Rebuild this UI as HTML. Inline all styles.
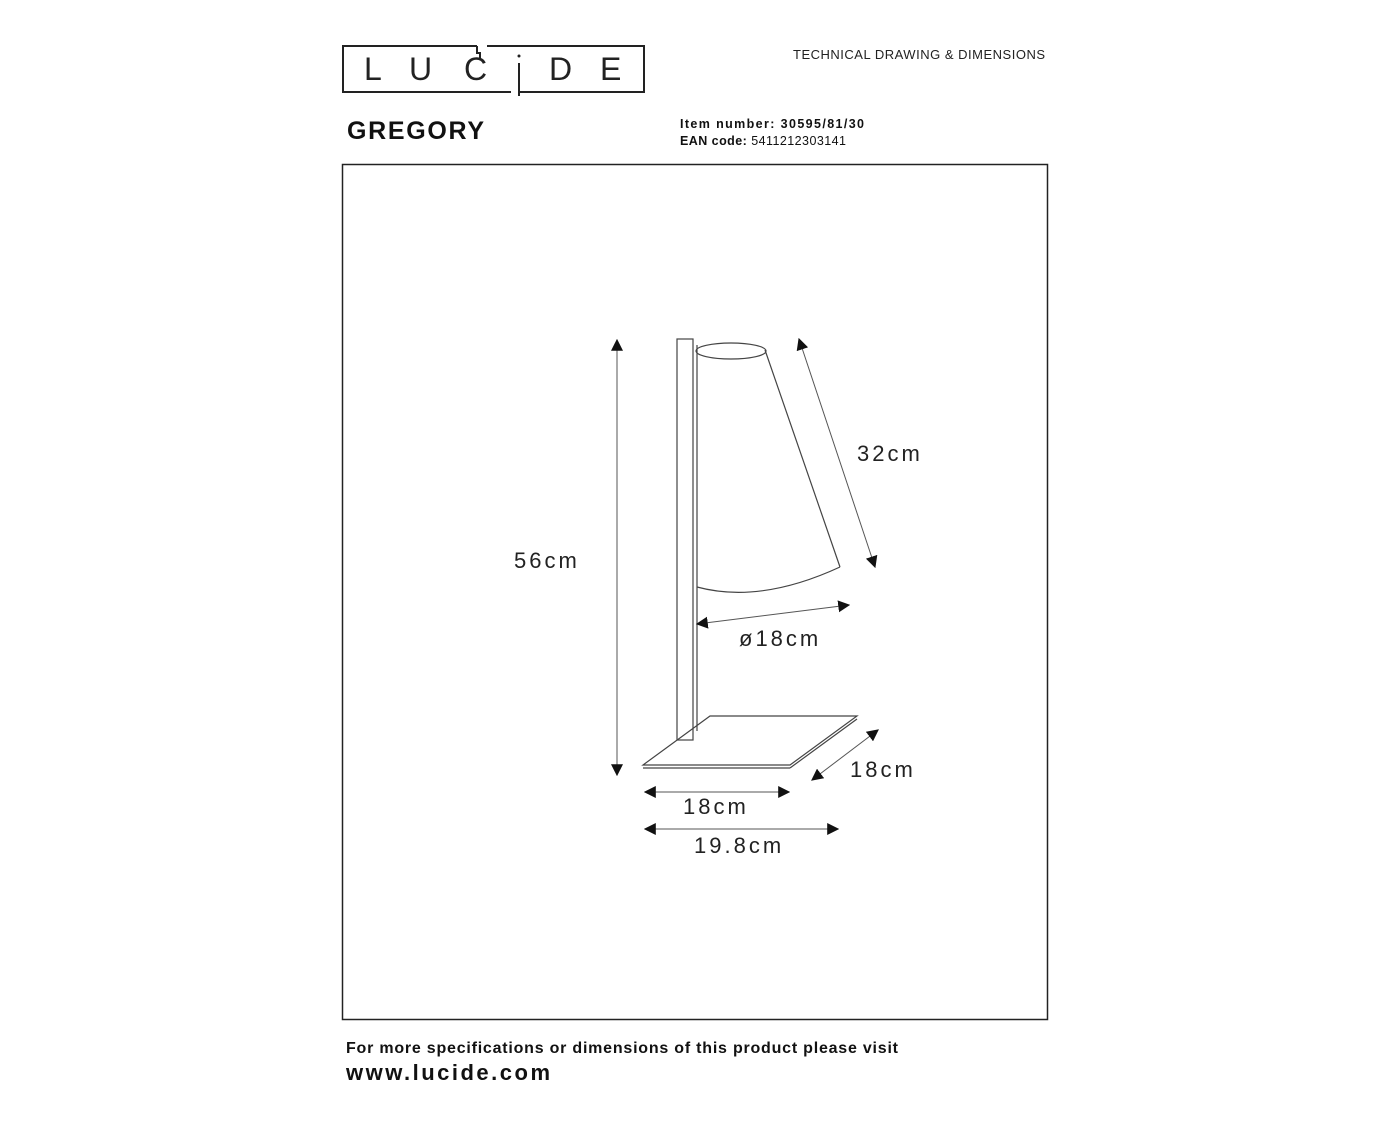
<!DOCTYPE html>
<html><head><style>
html,body{margin:0;padding:0;background:#fff;}
body{width:1384px;height:1132px;position:relative;overflow:hidden;font-family:"Liberation Sans",sans-serif;}
</style></head><body>
<svg width="1384" height="1132" viewBox="0 0 1384 1132" xmlns="http://www.w3.org/2000/svg" style="position:absolute;left:0;top:0">
<defs>
<marker id="a" viewBox="0 0 10 10" refX="9" refY="5" markerWidth="12" markerHeight="12" markerUnits="userSpaceOnUse" orient="auto-start-reverse">
<path d="M0,0 L10,5 L0,10 Z" fill="#111"/></marker>
</defs>
<!-- logo -->
<g fill="none" stroke="#222" stroke-width="2">
<path d="M477,46 H343 V92 H511"/>
<path d="M477,46 V53 H480 V58"/>
<path d="M487,46 H644 V92 H519"/>
<path d="M519,63 V96"/>
</g>
<circle cx="519" cy="56" r="1.5" fill="#222"/>
<g font-family="Liberation Sans" font-size="32" fill="#222">
<text x="364" y="80">L</text><text x="409" y="80">U</text><text x="464" y="80">C</text><text x="549" y="80">D</text><text x="600" y="80">E</text>
</g>
<text x="793" y="59" font-size="13" fill="#222" textLength="252">TECHNICAL DRAWING &amp; DIMENSIONS</text>
<text x="347" y="139" font-size="25" font-weight="bold" fill="#111" textLength="137">GREGORY</text>
<text x="680" y="128" font-size="12.5" font-weight="bold" fill="#111" textLength="184">Item number: 30595/81/30</text>
<text x="680" y="145" font-size="12.5" font-weight="bold" fill="#111" textLength="166">EAN code: <tspan font-weight="normal">5411212303141</tspan></text>
<rect x="342.5" y="164.5" width="705" height="855" fill="none" stroke="#222" stroke-width="1.5"/>
<!-- lamp -->
<g fill="none" stroke="#444" stroke-width="1.2">
<rect x="677" y="339" width="16" height="401"/>
<line x1="697" y1="345" x2="697" y2="731"/>
<ellipse cx="731" cy="351" rx="35" ry="8"/>
<path d="M765,350 L840,567"/>
<path d="M697,587 Q760,604 840,567"/>
<path d="M710,716 H857 L790,765 H643 Z"/>
<line x1="643" y1="768" x2="790" y2="768"/>
<line x1="790" y1="768" x2="857" y2="719"/>
</g>
<g stroke="#555" stroke-width="1" marker-start="url(#a)" marker-end="url(#a)">
<line x1="617" y1="340" x2="617" y2="775"/>
<line x1="799" y1="339" x2="875" y2="567"/>
<line x1="697" y1="624" x2="849" y2="605"/>
<line x1="812" y1="780" x2="878" y2="730"/>
<line x1="645" y1="792" x2="789" y2="792"/>
<line x1="645" y1="829" x2="838" y2="829"/>
</g>
<g font-size="22" fill="#222" letter-spacing="3">
<text x="857" y="461">32cm</text>
<text x="514" y="568">56cm</text>
<text x="739" y="646">ø18cm</text>
<text x="850" y="777">18cm</text>
<text x="683" y="814">18cm</text>
<text x="694" y="853">19.8cm</text>
</g>
<text x="346" y="1053" font-size="16" font-weight="bold" fill="#111" textLength="552">For more specifications or dimensions of this product please visit</text>
<text x="346" y="1080" font-size="22" font-weight="bold" fill="#111" textLength="204">www.lucide.com</text>
</svg>
</body></html>
